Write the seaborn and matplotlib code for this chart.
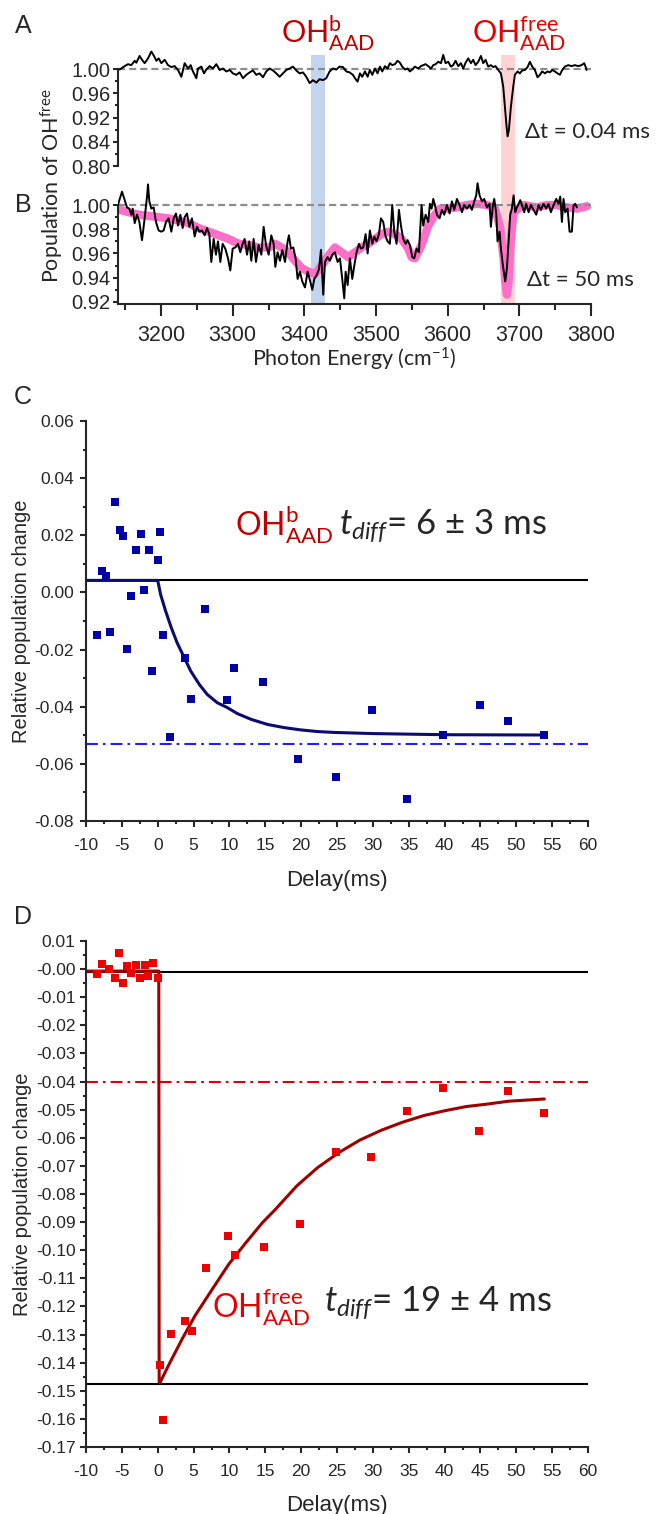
import matplotlib
matplotlib.use("Agg")
import matplotlib.pyplot as plt
import seaborn as sns
from matplotlib.ticker import MultipleLocator, FixedLocator, FormatStrFormatter, FuncFormatter

# ---------------- data ----------------
# Panel A: spectrum at dt = 0.04 ms (y in axis position units)
a_energy = [3142.3, 3149.3, 3154.0, 3158.6, 3163.3, 3165.6, 3170.2, 3173.5, 3177.2, 3181.9,
            3186.5, 3190.2, 3193.5, 3196.7, 3200.5, 3205.1, 3209.8, 3214.4, 3219.1, 3223.7,
            3228.4, 3233.0, 3237.7, 3241.4, 3244.6, 3249.3, 3251.6, 3256.3, 3260.0, 3263.2,
            3267.9, 3272.5, 3277.2, 3281.8, 3286.5, 3291.1, 3295.8, 3300.4, 3305.1, 3309.7,
            3314.4, 3319.0, 3323.7, 3328.3, 3333.0, 3337.6, 3342.3, 3346.9, 3351.6, 3356.2,
            3360.9, 3365.5, 3370.2, 3374.8, 3379.5, 3384.1, 3388.8, 3393.4, 3398.1, 3402.7,
            3407.4, 3412.0, 3416.7, 3421.3, 3426.0, 3430.6, 3435.3, 3439.9, 3444.6, 3449.2,
            3453.9, 3458.5, 3463.2, 3467.8,
            3470.6, 3474.3, 3477.6, 3480.8, 3484.6, 3488.3, 3491.5, 3494.8, 3498.5, 3502.2,
            3505.5, 3508.7, 3512.5, 3516.2, 3519.4, 3522.7, 3526.4, 3530.1, 3533.4, 3536.6,
            3540.4, 3544.1, 3547.3, 3550.6, 3554.3, 3559.0, 3562.7, 3565.9, 3569.2, 3572.9,
            3576.6, 3579.9, 3583.1, 3586.9, 3590.6, 3593.8, 3597.1, 3600.8, 3604.5, 3607.8,
            3611.0, 3614.8, 3618.5, 3621.7, 3625.0, 3628.7, 3632.4, 3635.7, 3638.9, 3642.7,
            3646.4, 3649.6, 3652.9, 3656.6, 3660.3, 3663.6, 3666.8, 3670.6, 3674.3, 3677.5,
            3679.9, 3682.2, 3683.6, 3685.4, 3688.2, 3691.5, 3693.8, 3697.5, 3700.8, 3704.0,
            3707.8, 3711.5, 3714.7, 3718.0, 3721.7, 3725.4, 3728.7, 3731.9, 3735.7, 3739.4,
            3742.6, 3745.9, 3749.6, 3753.3, 3756.6, 3759.8, 3763.6, 3768.2, 3772.9, 3777.5,
            3782.2, 3786.8, 3790.5, 3792.4, 3793.8]
a_pop = [0.999, 1.006, 1.010, 1.008, 1.017, 1.013, 1.027, 1.019, 1.012, 1.022,
         1.036, 1.027, 1.017, 1.022, 1.012, 1.019, 1.008, 1.004, 1.006, 0.998,
         0.984, 1.012, 1.001, 1.008, 0.995, 0.981, 1.001, 1.005, 0.991, 0.999,
         1.006, 1.001, 1.010, 0.998, 1.001, 0.995, 0.998, 0.991, 0.988, 0.993,
         0.981, 0.988, 0.993, 0.997, 0.988, 0.991, 0.983, 0.995, 1.001, 0.997,
         0.991, 0.984, 0.991, 0.998, 1.001, 1.005, 0.997, 0.991, 0.993, 0.984,
         0.971, 0.977, 0.972, 0.979, 0.977, 0.981, 0.995, 1.001, 0.999, 1.005,
         1.004, 0.995, 0.993, 0.988,
         0.981, 0.974, 0.991, 0.984, 0.995, 0.984, 0.998, 0.988, 1.001, 0.991,
         1.005, 0.995, 1.006, 1.001, 1.012, 1.008, 1.010, 1.017, 1.013, 1.005,
         0.999, 1.001, 0.995, 0.999, 1.005, 1.001, 1.006, 1.008, 1.010, 1.006,
         1.001, 1.008, 1.010, 1.015, 1.012, 1.029, 1.012, 1.015, 1.005, 1.008,
         1.017, 1.006, 1.012, 1.001, 1.013, 1.022, 1.012, 1.019, 1.008, 1.015,
         1.027, 1.012, 1.019, 1.005, 1.008, 1.004, 1.006, 0.998, 0.991, 0.964,
         0.922, 0.881, 0.861, 0.874, 0.922, 0.964, 0.988, 0.995, 0.991, 0.997,
         0.998, 1.004, 1.015, 1.005, 0.998, 0.983, 0.988, 0.995, 0.991, 0.995,
         0.993, 0.998, 0.995, 0.991, 0.988, 0.998, 1.005, 1.008, 1.006, 1.008,
         1.006, 1.008, 1.012, 1.005, 0.998]
a_tick_pos = [1.00, 0.95, 0.90, 0.85, 0.80]
a_tick_labels = ["1.00", "0.96", "0.92", "0.84", "0.80"]

# Panel B: spectrum at dt = 50 ms (black) and reference trace (pink)
b_energy = [3140.0, 3141.9, 3145.6, 3149.3, 3152.6, 3155.8, 3158.6, 3160.5, 3163.3, 3166.5,
            3169.8, 3173.5, 3177.2, 3180.5, 3181.9, 3183.7, 3186.5, 3189.8, 3193.0, 3196.7,
            3200.5, 3203.7, 3207.0, 3210.7, 3214.4, 3217.7, 3220.9, 3223.7, 3227.0, 3230.2,
            3233.0, 3236.3, 3239.5, 3243.2, 3247.0, 3250.2, 3253.5, 3257.2, 3260.9, 3264.2,
            3267.4, 3270.2, 3273.5, 3276.7, 3279.5, 3282.8, 3286.0, 3289.7, 3293.5, 3296.7,
            3300.0, 3303.7, 3307.4, 3310.7, 3313.9, 3316.7, 3320.0, 3323.2, 3326.0, 3329.3,
            3332.5, 3336.2, 3340.0, 3343.2, 3346.5, 3350.2, 3353.9, 3357.2, 3359.5, 3362.7,
            3366.0, 3369.2, 3373.0, 3376.7, 3378.5, 3381.3, 3384.6, 3387.8, 3390.6, 3393.9,
            3397.1, 3400.9, 3404.6, 3407.8, 3411.1, 3413.9, 3417.1, 3420.4, 3423.2, 3426.4,
            3428.8, 3432.5, 3435.7, 3439.0, 3442.7, 3446.4, 3449.7, 3452.9, 3455.7, 3457.6,
            3460.4, 3463.6, 3466.9, 3469.7, 3472.9, 3476.2, 3479.0, 3482.2, 3485.5, 3488.3,
            3491.5, 3494.8, 3497.6, 3500.8, 3504.1, 3506.9, 3510.1, 3513.4, 3516.2, 3519.4,
            3522.7, 3525.5, 3528.7, 3532.0, 3534.8, 3538.0, 3541.3, 3544.1, 3547.3, 3550.6,
            3553.4, 3556.6, 3559.9, 3563.6, 3565.9, 3569.2, 3572.9, 3575.2, 3577.6, 3579.9,
            3582.2, 3585.0, 3588.7, 3592.0, 3595.2, 3599.0, 3602.7, 3605.9, 3609.2, 3612.9,
            3616.6, 3619.9, 3623.1, 3626.9, 3630.6, 3633.8, 3637.1, 3639.9, 3641.7, 3644.5,
            3647.8, 3651.0, 3654.8, 3658.5, 3660.3, 3663.1, 3665.0, 3667.8, 3669.6, 3672.4,
            3674.3, 3677.1, 3680.3, 3682.7, 3685.0, 3687.3, 3689.6, 3692.0, 3694.3, 3696.6,
            3698.9, 3701.3, 3703.6, 3706.8, 3709.6, 3712.9, 3716.1, 3719.9, 3723.6, 3726.8,
            3730.1, 3733.8, 3737.5, 3740.8, 3744.0, 3747.8, 3751.5, 3754.7, 3757.1, 3759.4,
            3761.7, 3764.0, 3767.3, 3770.1, 3773.3, 3775.7, 3778.0, 3780.3]
b_pop = [1.000, 1.004, 1.011, 1.004, 0.998, 0.997, 0.992, 0.997, 0.985, 0.992,
         0.986, 0.971, 0.989, 1.007, 1.017, 1.003, 0.997, 0.998, 0.986, 0.979,
         0.978, 0.979, 0.986, 0.989, 0.978, 0.989, 0.993, 0.983, 0.992, 0.981,
         0.990, 0.993, 0.982, 0.989, 0.974, 0.982, 0.978, 0.979, 0.975, 0.981,
         0.976, 0.953, 0.972, 0.959, 0.970, 0.953, 0.968, 0.964, 0.956, 0.946,
         0.964, 0.965, 0.968, 0.961, 0.968, 0.972, 0.959, 0.970, 0.954, 0.972,
         0.953, 0.967, 0.959, 0.982, 0.967, 0.959, 0.975, 0.968, 0.949, 0.961,
         0.954, 0.963, 0.953, 0.970, 0.975, 0.964, 0.965, 0.956, 0.939, 0.945,
         0.937, 0.932, 0.945, 0.938, 0.930, 0.939, 0.942, 0.947, 0.963, 0.926,
         0.953, 0.957, 0.954, 0.959, 0.961, 0.953, 0.956, 0.939, 0.923, 0.945,
         0.934, 0.956, 0.939, 0.950, 0.961, 0.968, 0.964, 0.965, 0.976, 0.960,
         0.979, 0.968, 0.974, 0.970, 0.976, 0.989, 0.986, 0.974, 0.970, 0.968,
         1.000, 0.978, 0.968, 0.996, 0.983, 0.972, 0.968, 0.971, 0.967, 0.957,
         0.956, 0.964, 0.961, 1.000, 0.983, 0.992, 0.986, 1.001, 0.997, 1.005,
         1.000, 0.992, 0.989, 0.996, 0.992, 1.000, 0.993, 1.003, 0.996, 1.005,
         1.000, 0.994, 1.000, 0.997, 1.000, 0.996, 1.003, 1.008, 1.018, 1.008,
         1.003, 1.005, 0.998, 1.001, 0.982, 1.000, 1.005, 0.993, 0.970, 0.978,
         0.964, 0.950, 0.937, 0.948, 0.970, 0.992, 0.997, 1.008, 0.994, 0.998,
         1.001, 1.004, 1.000, 0.994, 1.001, 0.994, 1.000, 0.996, 0.992, 1.000,
         0.996, 1.001, 0.997, 1.001, 0.994, 1.000, 1.005, 1.001, 1.007, 0.986,
         1.005, 0.994, 0.997, 0.978, 0.978, 1.000, 1.001, 0.998]
b_ref_energy = [3143.0, 3154.9, 3168.8, 3182.8, 3196.7, 3210.7, 3224.6, 3238.6, 3252.5, 3266.5,
                3280.4, 3294.4, 3308.3, 3322.3, 3336.2, 3350.2, 3359.0, 3368.3, 3377.6, 3386.9,
                3396.2, 3405.5, 3414.8, 3424.1, 3433.4, 3442.7, 3452.0, 3461.3, 3470.6, 3479.9,
                3489.2, 3498.5, 3507.8, 3517.1, 3526.4, 3535.7, 3545.0, 3549.7, 3554.3, 3563.6,
                3572.9, 3582.2, 3589.2, 3599.0, 3612.9, 3626.9, 3640.8, 3654.8, 3666.4, 3673.4,
                3678.0, 3680.3, 3682.7, 3685.0, 3688.2, 3692.0, 3705.9, 3724.5, 3738.5, 3752.4,
                3766.4, 3780.3, 3794.3]
b_ref_pop = [0.996, 0.994, 0.992, 0.991, 0.990, 0.989, 0.987, 0.985, 0.981, 0.978,
             0.975, 0.972, 0.968, 0.967, 0.965, 0.965, 0.968, 0.965, 0.961, 0.954,
             0.948, 0.945, 0.943, 0.950, 0.958, 0.965, 0.961, 0.957, 0.961, 0.965,
             0.968, 0.972, 0.976, 0.978, 0.976, 0.972, 0.964, 0.957, 0.956, 0.967,
             0.983, 0.992, 0.997, 0.997, 0.998, 1.000, 1.001, 1.000, 0.997, 0.981,
             0.956, 0.937, 0.926, 0.937, 0.972, 0.994, 1.000, 0.998, 1.000, 1.000,
             0.998, 0.997, 0.999]
band_bonded = (3409, 3429)
band_free = (3674, 3694)

# Panel C: OH(b) AAD relative population change
c_delay = [-8.5, -7.8, -7.2, -6.7, -6.0, -5.3, -4.9, -4.3, -3.7, -3.0,
           -2.3, -1.9, -1.2, -0.8, 0.0, 0.3, 0.7, 1.7, 3.8, 4.7,
           6.6, 9.6, 10.7, 14.7, 19.6, 24.9, 29.9, 34.8, 39.8, 44.9,
           48.9, 53.9]
c_change = [-0.0150, 0.0075, 0.0057, -0.0138, 0.0316, 0.0220, 0.0199, -0.0199, -0.0011, 0.0150,
            0.0206, 0.0009, 0.0148, -0.0275, 0.0115, 0.0212, -0.0150, -0.0505, -0.0231, -0.0372,
            -0.0059, -0.0378, -0.0263, -0.0312, -0.0584, -0.0646, -0.0413, -0.0723, -0.0498, -0.0394,
            -0.0450, -0.0499]
c_fit_t = [-10, 0.0, 0.4, 1.1, 1.9, 2.7, 3.7, 4.6, 5.8, 6.9, 8.3, 9.7, 11.1, 13.0,
           15.3, 17.6, 19.9, 22.3, 24.6, 30, 40, 54]
c_fit_y = [0.0042, 0.0042, -0.0007, -0.0065, -0.0124, -0.0176, -0.0228, -0.0275, -0.0322,
           -0.0357, -0.0386, -0.0403, -0.0424, -0.0444, -0.0462, -0.0473, -0.0481, -0.0487,
           -0.0490, -0.0494, -0.0498, -0.0499]
c_level_before = 0.0042
c_level_limit = -0.0531

# Panel D: OH(free) AAD relative population change
d_delay = [-8.5, -7.8, -6.8, -6.0, -5.4, -4.9, -4.3, -3.7, -3.0, -2.5,
           -1.8, -1.3, -0.6, 0.0, 0.3, 0.8, 1.8, 3.8, 4.8, 6.8,
           9.8, 10.8, 14.8, 19.8, 24.9, 29.8, 34.8, 39.8, 44.8, 48.9,
           53.8]
d_change = [-0.0019, 0.0018, 0.0002, -0.0033, 0.0058, -0.0049, 0.0011, -0.0015, 0.0014, -0.0033,
            0.0014, -0.0025, 0.0023, -0.0030, -0.1408, -0.1603, -0.1298, -0.1253, -0.1286, -0.1065,
            -0.0948, -0.1017, -0.0987, -0.0905, -0.0650, -0.0670, -0.0506, -0.0424, -0.0577, -0.0435,
            -0.0513]
d_fit_t = [-10, 0.15, 0.2, 0.34, 1.6, 3.4, 5.2, 7.6, 9.9, 12.3, 14.6, 16.4, 19.4, 22.3,
           25.3, 28.2, 31.2, 34.1, 37.1, 40.0, 43.0, 46.0, 48.9, 53.9]
d_fit_y = [-0.0007, -0.0007, -0.1470, -0.1470, -0.1405, -0.1316, -0.1233, -0.1139, -0.1050,
           -0.0973, -0.0902, -0.0855, -0.0771, -0.0706, -0.0652, -0.0608, -0.0573, -0.0545,
           -0.0521, -0.0504, -0.0489, -0.0480, -0.0470, -0.0462]
d_level_before = -0.0010
d_level_min = -0.1476
d_level_limit = -0.0400

# ---------------- styling ----------------
sns.set_style("ticks")
plt.rcParams["font.family"] = ["Liberation Sans", "DejaVu Sans"]
plt.rcParams["mathtext.fontset"] = "custom"
plt.rcParams["mathtext.rm"] = "Lato"
plt.rcParams["mathtext.it"] = "Lato:italic"
plt.rcParams["mathtext.bf"] = "Lato:bold"
plt.rcParams["axes.linewidth"] = 1.5
CAL = ["Lato", "DejaVu Sans"]

DARKRED = "#C00000"
RED = "#E80000"
NAVY = "#0B0B72"
BLUE_PTS = "#0000A6"
PINK = "#FF6EC7"
GREY = "#8C8C8C"

W, H = 661, 1514
fig = plt.figure(figsize=(W / 100, H / 100), dpi=100)


def box(x0, y_top, x1, y_bot):
    return [x0 / W, 1 - y_bot / H, (x1 - x0) / W, (y_bot - y_top) / H]


ax_b = fig.add_axes(box(118, 174.7, 591, 304.4))
ax_a = fig.add_axes(box(118, 47.2, 591, 166))
ax_c = fig.add_axes(box(86, 421, 588, 821))
ax_d = fig.add_axes(box(86, 941, 588, 1447))
ax_a.set_zorder(3)
ax_a.patch.set_visible(False)

# ---- Panel B ----
for lo, hi, col in [(band_bonded[0], band_bonded[1], "#C2D4EE"), (band_free[0], band_free[1], "#FFD3D3")]:
    ax_b.axvspan(lo, hi, ymin=0, ymax=1.923, color=col, lw=0, zorder=0, clip_on=False)
sns.lineplot(x=b_ref_energy, y=b_ref_pop, ax=ax_b, color=PINK, lw=6, sort=False,
             estimator=None, solid_capstyle="round", zorder=2)
ax_b.axhline(1.0, color=GREY, lw=1.6, ls=(0, (3.2, 1.8)), zorder=2.5)
sns.lineplot(x=b_energy, y=b_pop, ax=ax_b, color="black", lw=1.4, sort=False,
             estimator=None, zorder=3)
ax_b.set_xlim(3140, 3800)
ax_b.set_ylim(0.918, 1.025)
ax_b.spines["top"].set_visible(False)
ax_b.spines["right"].set_visible(False)
ax_b.spines["left"].set_bounds(0.918, 1.00)
ax_b.yaxis.set_major_locator(FixedLocator([0.92, 0.94, 0.96, 0.98, 1.00]))
ax_b.yaxis.set_minor_locator(FixedLocator([0.93, 0.95, 0.97, 0.99]))
ax_b.yaxis.set_major_formatter(FormatStrFormatter("%.2f"))
ax_b.xaxis.set_major_locator(MultipleLocator(100))
ax_b.xaxis.set_minor_locator(MultipleLocator(50))
ax_b.tick_params(axis="x", which="major", length=8.5, width=1.5, pad=6, labelsize=15.5)
ax_b.tick_params(axis="x", which="minor", length=4.3, width=1.5)
ax_b.tick_params(axis="y", which="major", length=3.5, width=1.5, pad=2, labelsize=14.5)
ax_b.tick_params(axis="y", which="minor", length=2, width=1.5)
ax_b.set_xlabel(r"Photon Energy (cm$^{\mathrm{-1}}$)", family=CAL, fontsize=15.5, labelpad=0)
ax_b.set_ylabel("")

# ---- Panel A ----
ax_a.axhline(1.0, color=GREY, lw=1.6, ls=(0, (3.2, 1.8)), zorder=2)
sns.lineplot(x=a_energy, y=a_pop, ax=ax_a, color="black", lw=1.4, sort=False,
             estimator=None, zorder=3)
ax_a.set_xlim(3140, 3800)
ax_a.set_ylim(0.80, 1.045)
for s in ["top", "right", "bottom"]:
    ax_a.spines[s].set_visible(False)
ax_a.spines["left"].set_bounds(0.80, 1.00)
ax_a.set_yticks(a_tick_pos, a_tick_labels)
ax_a.yaxis.set_minor_locator(FixedLocator([0.975, 0.925, 0.875, 0.825]))
ax_a.tick_params(axis="x", which="both", bottom=False, labelbottom=False)
ax_a.tick_params(axis="y", which="major", length=3.5, width=1.5, pad=2, labelsize=14.5)
ax_a.tick_params(axis="y", which="minor", length=2, width=1.5)
ax_a.set_xlabel("")
ax_a.set_ylabel("")

fig.text(52 / W, 1 - 186 / H, r"Population of OH$^{\mathrm{free}}$", rotation=90,
         ha="center", va="center", family=CAL, fontsize=15.5)
fig.text(328 / W, 1 - 43 / H, r"OH$^{\mathrm{b}}_{\mathrm{AAD}}$", ha="center", va="baseline",
         family=CAL, fontsize=22, color=DARKRED)
fig.text(519 / W, 1 - 43 / H, r"OH$^{\mathrm{free}}_{\mathrm{AAD}}$", ha="center", va="baseline",
         family=CAL, fontsize=22, color=RED)
fig.text(525 / W, 1 - 132 / H, "Δt = 0.04 ms", ha="left", va="center", family=CAL, fontsize=16)
fig.text(527 / W, 1 - 280 / H, "Δt = 50 ms", ha="left", va="center", family=CAL, fontsize=16)

# ---- Panel C ----
ax_c.axhline(c_level_before, color="black", lw=1.5, zorder=1)
ax_c.axhline(c_level_limit, color="#2020FF", lw=1.5, ls=(0, (5.7, 2.4, 1.3, 2.4)), zorder=1)
sns.lineplot(x=c_fit_t, y=c_fit_y, ax=ax_c, color=NAVY, lw=2.2, sort=False, estimator=None, zorder=2)
sns.scatterplot(x=c_delay, y=c_change, ax=ax_c, marker="s", s=34, color=BLUE_PTS,
                linewidth=0, zorder=3)
ax_c.set_xlim(-10, 60)
ax_c.set_ylim(-0.08, 0.06)
sns.despine(ax=ax_c)
ax_c.xaxis.set_major_locator(MultipleLocator(5))
ax_c.xaxis.set_minor_locator(MultipleLocator(2.5))
ax_c.yaxis.set_major_locator(MultipleLocator(0.02))
ax_c.yaxis.set_minor_locator(MultipleLocator(0.01))
ax_c.yaxis.set_major_formatter(FormatStrFormatter("%.2f"))
ax_c.xaxis.set_major_formatter(FormatStrFormatter("%d"))
ax_c.tick_params(axis="both", which="major", length=4.5, width=1.5, labelsize=12.5)
ax_c.tick_params(axis="x", which="major", pad=8)
ax_c.tick_params(axis="y", which="major", pad=4)
ax_c.tick_params(axis="both", which="minor", length=2.5, width=1.5)
ax_c.set_xlabel("Delay(ms)", fontsize=16, labelpad=12)
ax_c.set_ylabel("Relative population change", fontsize=14.5, labelpad=3)

fig.text(235 / W, 1 - 535 / H, r"OH$^{\mathrm{b}}_{\mathrm{AAD}}$", ha="left", va="baseline",
         family=CAL, fontsize=23, color=DARKRED)
fig.text(339 / W, 1 - 535 / H, r"$t_{diff}$= 6 ± 3 ms", ha="left", va="baseline",
         family=CAL, fontsize=25)

# ---- Panel D ----
ax_d.axhline(d_level_before, color="black", lw=1.5, zorder=1)
ax_d.axhline(d_level_min, color="black", lw=1.5, zorder=1)
ax_d.axhline(d_level_limit, color="#E00000", lw=1.5, ls=(0, (5.7, 2.4, 1.3, 2.4)), zorder=1)
sns.lineplot(x=d_fit_t, y=d_fit_y, ax=ax_d, color="#9E0000", lw=2.2, sort=False, estimator=None, zorder=2)
sns.scatterplot(x=d_delay, y=d_change, ax=ax_d, marker="s", s=38, color="#EE0000",
                linewidth=0, zorder=3)
ax_d.set_xlim(-10, 60)
ax_d.set_ylim(-0.17, 0.01)
sns.despine(ax=ax_d)
ax_d.xaxis.set_major_locator(MultipleLocator(5))
ax_d.xaxis.set_minor_locator(MultipleLocator(2.5))
ax_d.yaxis.set_major_locator(MultipleLocator(0.01))
ax_d.yaxis.set_minor_locator(MultipleLocator(0.005))
ax_d.yaxis.set_major_formatter(FuncFormatter(lambda v, p: "-0.00" if abs(v) < 1e-9 else f"{v:.2f}"))
ax_d.xaxis.set_major_formatter(FormatStrFormatter("%d"))
ax_d.tick_params(axis="both", which="major", length=4.5, width=1.5, labelsize=12.5)
ax_d.tick_params(axis="x", which="major", pad=8)
ax_d.tick_params(axis="y", which="major", pad=3)
ax_d.tick_params(axis="both", which="minor", length=2.5, width=1.5)
ax_d.set_xlabel("Delay(ms)", fontsize=16, labelpad=11)
ax_d.set_ylabel("Relative population change", fontsize=14.5, labelpad=3)

fig.text(212 / W, 1 - 1318 / H, r"OH$^{\mathrm{free}}_{\mathrm{AAD}}$", ha="left", va="baseline",
         family=CAL, fontsize=23, color=RED)
fig.text(324 / W, 1 - 1312 / H, r"$t_{diff}$= 19 ± 4 ms", ha="left", va="baseline",
         family=CAL, fontsize=25)

# panel letters
for letter, yy in [("A", 26), ("B", 205), ("C", 397), ("D", 917)]:
    fig.text(23 / W, 1 - yy / H, letter, ha="center", va="center", fontsize=18)

fig.savefig("out.png", dpi=100)
plt.close(fig)
